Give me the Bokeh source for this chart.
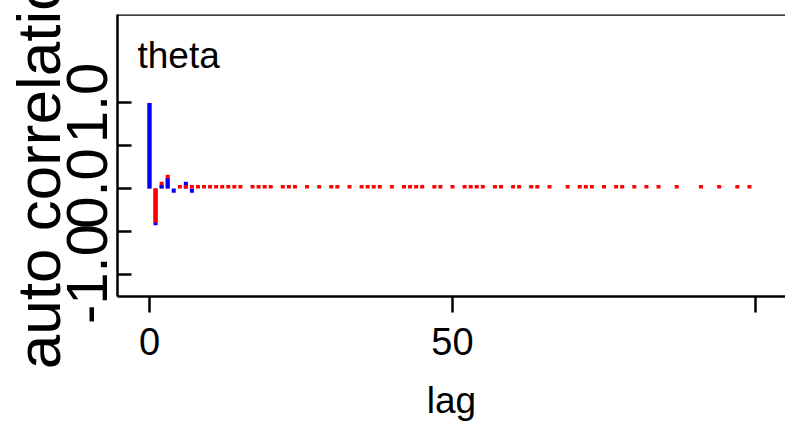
from bokeh.plotting import figure
from bokeh.models import Range1d, FixedTicker, Span, Label, ColumnDataSource
from bokeh.embed import file_html
from bokeh.resources import INLINE

# ---------------- data ----------------
lags = list(range(100))

blue_acf = [
    1.00, -0.43, 0.04, 0.12, -0.05, 0.00, 0.08, -0.05, 0.00, 0.00,
    0.00, 0.00, 0.00, 0.00, 0.00, 0.00, 0.00, 0.00, 0.00, 0.00,
    0.00, 0.00, 0.00, 0.00, 0.00, 0.00, 0.00, 0.00, 0.00, 0.00,
    0.00, 0.00, 0.00, 0.00, 0.00, 0.00, 0.00, 0.00, 0.00, 0.00,
    0.00, 0.00, 0.00, 0.00, 0.00, 0.00, 0.00, 0.00, 0.00, 0.00,
    0.00, 0.00, 0.00, 0.00, 0.00, 0.00, 0.00, 0.00, 0.00, 0.00,
    0.00, 0.00, 0.00, 0.00, 0.00, 0.00, 0.00, 0.00, 0.00, 0.00,
    0.00, 0.00, 0.00, 0.00, 0.00, 0.00, 0.00, 0.00, 0.00, 0.00,
    0.00, 0.00, 0.00, 0.00, 0.00, 0.00, 0.00, 0.00, 0.00, 0.00,
    0.00, 0.00, 0.00, 0.00, 0.00, 0.00, 0.00, 0.00, 0.00, 0.00,
]

red_acf = [
    1.00, -0.40, 0.08, 0.16, 0.00, 0.04, 0.04, 0.04, 0.04, 0.04,
    0.04, 0.04, 0.04, 0.04, 0.04, 0.04, 0.00, 0.04, 0.04, 0.04,
    0.04, 0.00, 0.04, 0.04, 0.04, 0.00, 0.04, 0.00, 0.04, 0.00,
    0.04, 0.04, 0.00, 0.04, 0.00, 0.04, 0.04, 0.04, 0.04, 0.00,
    0.04, 0.00, 0.04, 0.04, 0.04, 0.04, 0.00, 0.04, 0.04, 0.00,
    0.04, 0.00, 0.04, 0.04, 0.04, 0.04, 0.00, 0.04, 0.04, 0.00,
    0.04, 0.04, 0.00, 0.04, 0.04, 0.00, 0.04, 0.00, 0.00, 0.04,
    0.00, 0.04, 0.04, 0.04, 0.00, 0.04, 0.00, 0.04, 0.04, 0.00,
    0.04, 0.00, 0.04, 0.00, 0.04, 0.00, 0.00, 0.04, 0.00, 0.00,
    0.00, 0.04, 0.00, 0.00, 0.04, 0.00, 0.00, 0.04, 0.00, 0.04,
]

chain_colors = {"blue": "#0000FF", "red": "#FF0000"}
panel_title = "theta"
x_title = "lag"
y_title = "auto correlation"
x_ticks = [0, 50, 100]
x_tick_labels = {0: "0", 50: "50", 100: ""}
y_ticks = [-1.0, -0.5, 0.0, 0.5, 1.0]
y_tick_labels = {-1.0: "-1.0", -0.5: "", 0.0: "0.0", 0.5: "", 1.0: "1.0"}

# ---------------- draw order: per lag, longer bar first, so both stay visible ----------------
xs, vals, cols = [], [], []
for k in lags:
    pair = [(abs(red_acf[k]), 0, "red", red_acf[k]),
            (abs(blue_acf[k]), 1, "blue", blue_acf[k])]
    pair.sort(key=lambda t: (-t[0], t[1]))
    for _, _, name, v in pair:
        xs.append(k)
        vals.append(v)
        cols.append(chain_colors[name])
src = ColumnDataSource(dict(lag=xs, acf=vals, color=cols))

FONT = "Liberation Sans"

p = figure(width=785, height=428, output_backend="svg", toolbar_location=None,
           x_range=Range1d(-5.28, 104.95), y_range=Range1d(-1.263, 2.035),
           min_border_left=117, min_border_right=0, min_border_top=14,
           min_border_bottom=132)
p.background_fill_color = "white"
p.border_fill_color = "white"
p.outline_line_color = None
p.grid.visible = False

p.vbar(x="lag", top="acf", bottom=0, width=0.66, fill_color="color",
       line_color=None, source=src)

# top border of the frame (no right border visible in the reference)
p.add_layout(Span(location=p.y_range.end, dimension="width",
                  line_color="black", line_width=2.5))

# x axis
xa = p.xaxis[0]
xa.ticker = FixedTicker(ticks=x_ticks, minor_ticks=[])
xa.major_label_overrides = x_tick_labels
xa.axis_label = x_title
xa.axis_label_text_font = FONT
xa.axis_label_text_font_size = "37px"
xa.axis_label_text_font_style = "normal"
xa.axis_label_text_color = "black"
xa.axis_label_standoff = 22
xa.major_label_text_font = FONT
xa.major_label_text_font_size = "38px"
xa.major_label_text_color = "black"
xa.major_label_standoff = 15
xa.major_tick_out = 16
xa.major_tick_in = 0
xa.major_tick_line_width = 2.5
xa.major_tick_line_color = "black"
xa.minor_tick_out = 0
xa.minor_tick_in = 0
xa.axis_line_width = 2.5
xa.axis_line_color = "black"

# y axis (its big title overlaps the tick labels, as in the reference)
ya = p.yaxis[0]
ya.ticker = FixedTicker(ticks=y_ticks, minor_ticks=[])
ya.major_label_overrides = y_tick_labels
ya.major_label_orientation = "vertical"
ya.major_label_text_font = FONT
ya.major_label_text_font_size = "58px"
ya.major_label_text_color = "black"
ya.major_label_standoff = 10
ya.major_tick_in = 14
ya.major_tick_out = 0
ya.major_tick_line_width = 2.5
ya.major_tick_line_color = "black"
ya.minor_tick_out = 0
ya.minor_tick_in = 0
ya.axis_line_width = 2.5
ya.axis_line_color = "black"
ya.axis_label = y_title
ya.axis_label_text_font = FONT
ya.axis_label_text_font_size = "62px"
ya.axis_label_text_font_style = "normal"
ya.axis_label_text_color = "black"
ya.axis_label_standoff = -8

# panel title inside the frame
p.add_layout(Label(x=-1.98, y=1.556, text=panel_title, text_font=FONT,
                   text_font_size="37px", text_color="black",
                   text_align="left", text_baseline="alphabetic"))

open("out.html", "w").write(file_html(p, INLINE))
